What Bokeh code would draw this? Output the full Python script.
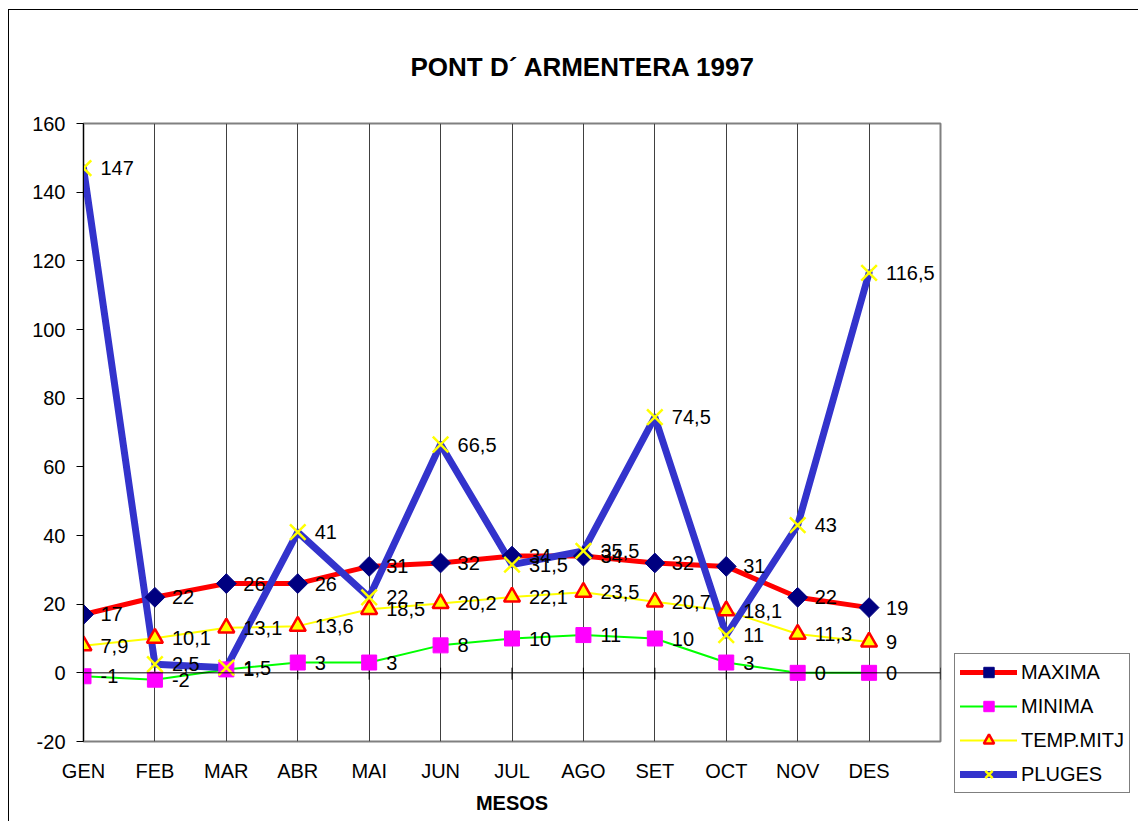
import math
from bokeh.plotting import figure
from bokeh.models import (ColumnDataSource, Range1d, FixedTicker, Span, Title,
                          Legend, LegendItem)
from bokeh.core.properties import value
from bokeh.embed import file_html
from bokeh.resources import INLINE

# ---- data ----
months = ["GEN", "FEB", "MAR", "ABR", "MAI", "JUN", "JUL", "AGO", "SET", "OCT", "NOV", "DES"]
maxima = [17, 22, 26, 26, 31, 32, 34, 34, 32, 31, 22, 19]
minima = [-1, -2, 1, 3, 3, 8, 10, 11, 10, 3, 0, 0]
temp_mitj = [7.9, 10.1, 13.1, 13.6, 18.5, 20.2, 22.1, 23.5, 20.7, 18.1, 11.3, 9]
pluges = [147, 2.5, 1.5, 41, 22, 66.5, 31.5, 35.5, 74.5, 11, 43, 116.5]
y_ticks = [-20, 0, 20, 40, 60, 80, 100, 120, 140, 160]
title_text = "PONT D\u00b4 ARMENTERA 1997"
x_title = "MESOS"

FONT = "Liberation Sans"
n = len(months)
xs = list(range(n))

def fmt(v):
    return ("%g" % v).replace(".", ",")

p = figure(frame_width=857, frame_height=618, output_backend="svg", toolbar_location=None,
           x_range=Range1d(0, n), y_range=Range1d(y_ticks[0], y_ticks[-1]),
           min_border_left=74, min_border_right=190, min_border_top=113,
           min_border_bottom=80)
p.styles = {"margin-left": "8px", "margin-top": "9px",
            "border-left": "1px solid #000000", "border-top": "1px solid #000000"}
p.background_fill_color = "white"
p.border_fill_color = "white"
p.outline_line_color = "#808080"
p.outline_line_width = 2

# title
p.title = Title(text=title_text, align="left", offset=327, standoff=80, vertical_align="top",
                text_font=FONT, text_font_size="26px", text_font_style="bold",
                text_color="black")

# y axis
p.yaxis.ticker = FixedTicker(ticks=y_ticks)
p.yaxis.major_label_overrides = {t: str(t) for t in y_ticks}
p.yaxis.axis_line_color = "black"
p.yaxis.major_tick_line_color = "black"
p.yaxis.major_tick_out = 7
p.yaxis.major_tick_in = 0
p.yaxis.minor_tick_line_color = None
p.yaxis.major_label_text_font = FONT
p.yaxis.major_label_text_font_size = "20px"
p.yaxis.major_label_text_color = "black"
p.yaxis.major_label_standoff = 11

# x axis (bottom)
xaxis = p.below[0]
xaxis.ticker = FixedTicker(ticks=xs)
xaxis.major_label_overrides = {i: m for i, m in enumerate(months)}
xaxis.axis_line_color = None
xaxis.major_tick_line_color = None
xaxis.minor_tick_line_color = None
xaxis.major_label_text_font = FONT
xaxis.major_label_text_font_size = "20px"
xaxis.major_label_text_color = "black"
xaxis.major_label_standoff = 12
xaxis.axis_label = x_title
xaxis.axis_label_text_font = FONT
xaxis.axis_label_text_font_size = "20px"
xaxis.axis_label_text_font_style = "bold"
xaxis.axis_label_text_color = "black"
xaxis.axis_label_standoff = 7

p.ygrid.grid_line_color = None
p.xgrid.ticker = FixedTicker(ticks=xs)
p.xgrid.grid_line_color = "#404040"
p.xgrid.grid_line_width = 1

# zero line with tick marks
p.add_layout(Span(location=0, dimension="width", line_color="black", line_width=1))
tick_x = list(range(n + 1))
p.segment(x0=tick_x, y0=[1.5] * len(tick_x), x1=tick_x, y1=[-2] * len(tick_x),
          line_color="black", line_width=1)

series = [
    ("MAXIMA", maxima, dict(color="#FF0000", width=5),
     dict(marker="square", size=14, angle=math.pi / 4, fill_color="#000080", line_color="#000080", line_width=1)),
    ("MINIMA", minima, dict(color="#00FF00", width=2),
     dict(marker="square", size=15, angle=0, fill_color="#FF00FF", line_color="#FF00FF", line_width=1)),
    ("TEMP.MITJ", temp_mitj, dict(color="#FFFF00", width=2),
     dict(marker="triangle", size=16, angle=0, fill_color="#FFFF00", line_color="#FF0000", line_width=2.5)),
    ("PLUGES", pluges, dict(color="#3333CC", width=7),
     dict(marker="x", size=22, angle=0, fill_color=None, line_color="#FFFF00", line_width=2.5)),
]

sources = []
line_rs = []
for name, vals, ls, ms in series:
    src = ColumnDataSource(dict(x=xs, y=vals, lab=[fmt(v) for v in vals]))
    sources.append(src)
    r = p.line("x", "y", source=src, line_color=ls["color"], line_width=ls["width"],
               line_join="round", line_cap="round")
    line_rs.append(r)

marker_rs = []
for (name, vals, ls, ms), src in zip(series, sources):
    r = p.scatter("x", "y", source=src, marker=ms["marker"], size=ms["size"], angle=ms["angle"],
                  fill_color=ms["fill_color"], line_color=ms["line_color"], line_width=ms["line_width"])
    marker_rs.append(r)

for src in sources:
    p.text("x", "y", text="lab", source=src, x_offset=17, y_offset=0,
           text_font=value(FONT), text_font_size="20px", text_color="black",
           text_baseline="middle", text_align="left")

legend = Legend(items=[LegendItem(label=s[0], renderers=[lr, mr])
                       for s, lr, mr in zip(series, line_rs, marker_rs)],
                location=(14, -52))
legend.label_text_font = FONT
legend.label_text_font_size = "20px"
legend.label_text_color = "black"
legend.glyph_width = 57
legend.glyph_height = 26
legend.label_height = 26
legend.label_standoff = 4
legend.spacing = 8
legend.padding = 5
legend.margin = 0
legend.border_line_color = "black"
legend.border_line_width = 1
legend.background_fill_color = "white"
legend.background_fill_alpha = 1
p.add_layout(legend, "right")

open("out.html", "w").write(file_html(p, INLINE))
